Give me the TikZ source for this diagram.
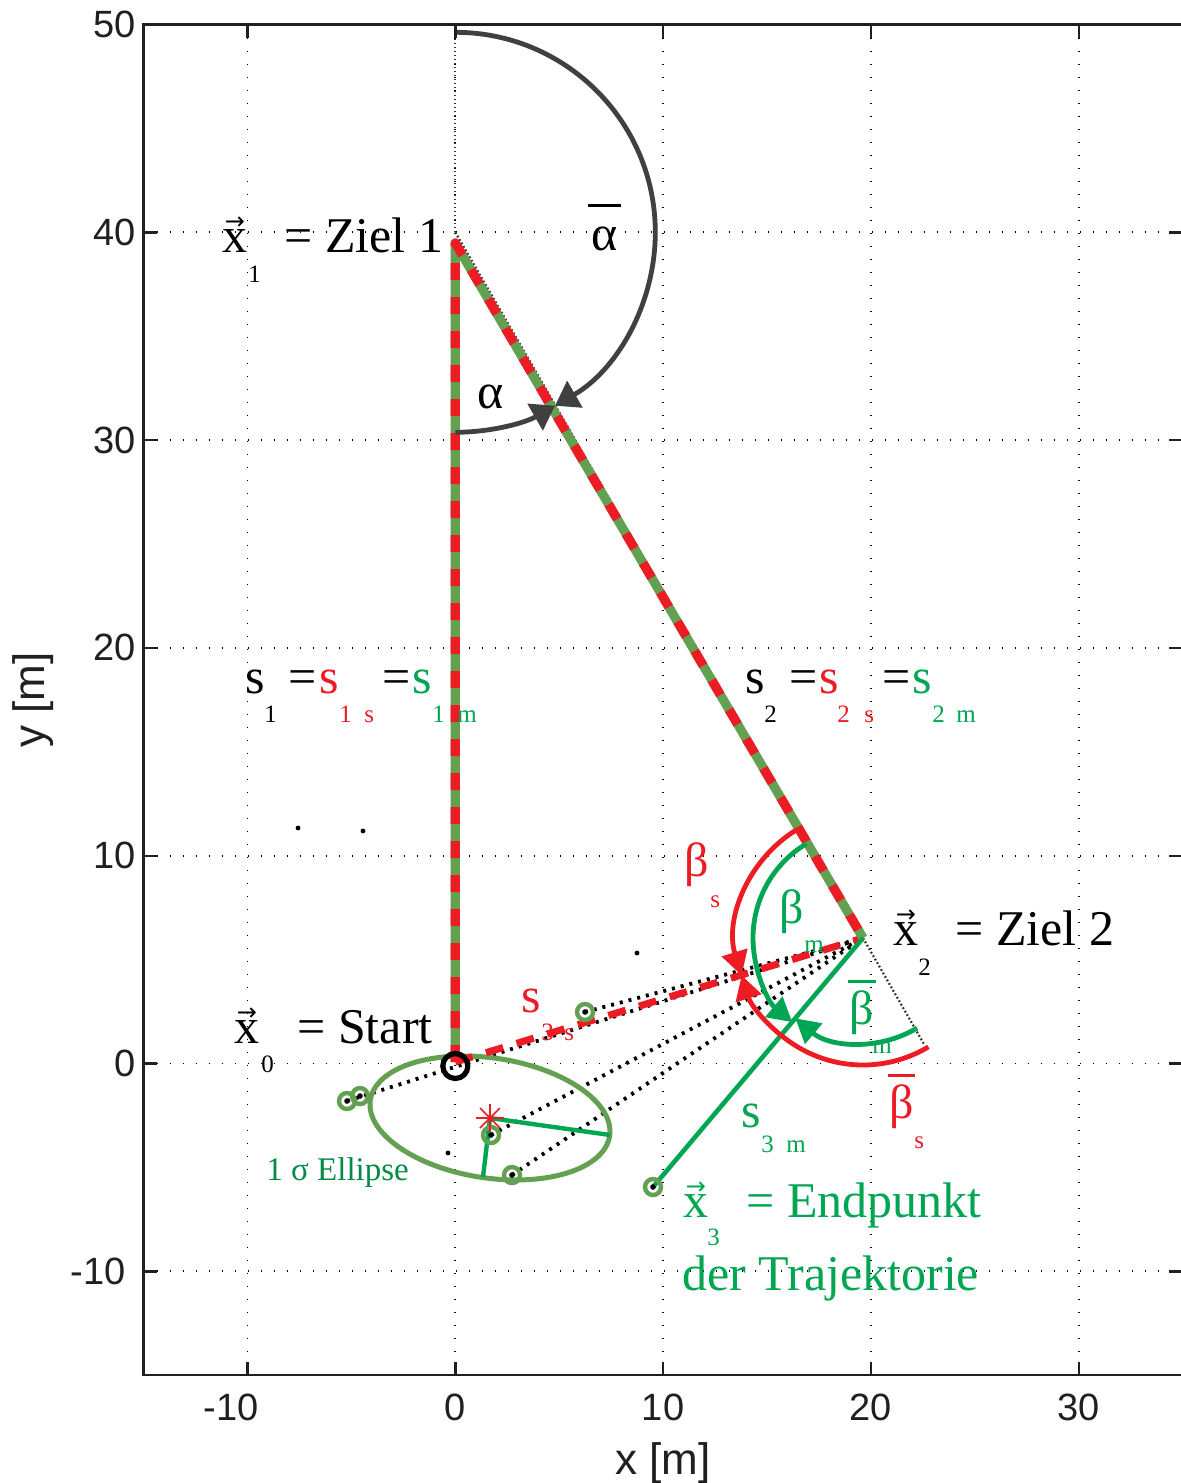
\documentclass[tikz,border=0pt]{standalone}
\usepackage{fontspec}
\setmainfont{Liberation Serif}
\newfontfamily\axfont{Liberation Sans}
\newfontfamily\arrowfont{DejaVu Sans}
\usetikzlibrary{arrows.meta}
\definecolor{mred}{RGB}{237,28,36}
\definecolor{mgreenA}{RGB}{99,160,82}
\definecolor{mgreenB}{RGB}{0,166,81}
\definecolor{mgreenC}{RGB}{0,140,70}
\definecolor{arcgray}{RGB}{64,64,64}
\definecolor{axcol}{RGB}{35,31,32}
\newcommand{\vecx}{\ooalign{x\cr\hidewidth\raisebox{11.5pt}{\arrowfont\fontsize{12}{12}\selectfont →}\hidewidth\cr}}
\newcommand{\barsym}[3]{\ooalign{#1\cr\hidewidth\rule[#2]{#3}{1.5pt}\hidewidth\cr}}
\begin{document}
\begin{tikzpicture}[x=0.5pt,y=-0.5pt,
  gridline/.style={draw=black, line width=0.9pt, dash pattern=on 0.9pt off 5.6pt},
  axisline/.style={draw=axcol, line width=1.2pt},
  ticklbl/.style={inner sep=0pt, font=\axfont\fontsize{19}{22}\selectfont, text=axcol},
  axlbl/.style={inner sep=0pt, anchor=base, font=\axfont\fontsize{22}{26}\selectfont, text=axcol},
  traj/.style={draw=black, line width=1.9pt, dash pattern=on 1.5pt off 3pt},
  fine/.style={draw=black!80, line width=1.1pt, dash pattern=on 0.9pt off 1.1pt},
  gmark/.style={circle, draw=mgreenA, line width=2.2pt, inner sep=0pt, minimum size=8pt},
  garc/.style={draw=arcgray, line width=2.4pt, -{Triangle[length=11.5pt,width=15pt]}},
  rarc/.style={draw=mred, line width=2.4pt, -{Triangle[length=12pt,width=13pt]}},
  marc/.style={draw=mgreenB, line width=2.4pt, -{Triangle[length=12pt,width=13pt]}},
  lbl/.style={inner sep=0pt, anchor=base west, font=\fontsize{25}{30}\selectfont},
  grk/.style={inner sep=0pt, anchor=base west, font=\fontsize{24}{28}\selectfont},
  sub/.style={inner sep=0pt, anchor=base west, font=\fontsize{12.5}{15}\selectfont},
]
\useasboundingbox (0,0) rectangle (1180,1483);
\fill[white] (0,0) rectangle (1180,1483);

% grid
\foreach \gx in {247.5,455.3,663.1,870.9,1078.7} \draw[gridline] (\gx,24.5) -- (\gx,1375.2);
\foreach \gy in {232.3,440.1,647.9,855.7,1063.5,1271.3} \draw[gridline] (143.6,\gy) -- (1182.6,\gy);

% key points
\coordinate (x0) at (455.3,1063.5);
\coordinate (x1) at (455.3,232.3);
\coordinate (x2) at (863,938);
\coordinate (x3) at (653,1187);
\coordinate (topp) at (455.3,26);
\coordinate (ext) at (923.8,1043.8);
\coordinate (s1top) at (455.3,243);
\coordinate (s1bot) at (455.3,1062);
\coordinate (c0) at (490,1118);
\coordinate (emaj) at (610,1135);
\coordinate (emin) at (483,1177);
\coordinate (p1) at (347,1101);
\coordinate (p2) at (360,1096);
\coordinate (p3) at (491,1135);
\coordinate (p4) at (512,1175);
\coordinate (p5) at (585,1012);

% dense dotted reference lines
\draw[fine] (x1) -- (topp);
\draw[fine] (x1) -- (x2);
\draw[fine] (x2) -- (ext);

% trajectory samples
\draw[traj] (p1) -- (x2);
\draw[traj] (p5) -- (x2);
\draw[traj] (p3) -- (x2);
\draw[traj] (p4) -- (x2);

% ellipse
\draw[mgreenA, line width=2.5pt, rotate around={-8.5:(c0)}] (c0) ellipse [x radius=121, y radius=60];
\draw[mgreenB, line width=2.2pt] (emaj) -- (c0) -- (emin);

% s3s
\draw[mred, line width=3.5pt, dash pattern=on 9pt off 7pt] (s1bot) -- (x2);

% s1 / s2 thick
\draw[mgreenA, line width=4.6pt, line join=round] (s1bot) -- (s1top) -- (x2);
\draw[mred, line width=4.6pt, line join=round, dash pattern=on 8.5pt off 8.5pt] (s1bot) -- (s1top) -- (x2);

% s3m
\draw[mgreenB, line width=2.3pt] (x2) -- (x3);

% angle arcs
\draw[garc] (x1) ++(-90:200) arc[start angle=-90, end angle=60.1, radius=200];
\draw[garc] (x1) ++(90:200) arc[start angle=90, end angle=60.1, radius=200];
\draw[rarc] (x2) ++(-121:127) arc[start angle=-121, end angle=-197.1, radius=127];
\draw[rarc] (x2) ++(59:127) arc[start angle=59, end angle=162.9, radius=127];
\draw[marc] (x2) ++(-121:110) arc[start angle=-121, end angle=-229.9, radius=110];
\draw[marc] (x2) ++(59:105) arc[start angle=59, end angle=130.1, radius=105];

% markers
\foreach \p in {p1,p2,p3,p4,p5,x3} \fill[black] (\p) circle[radius=2.8];
\node[gmark] (m1) at (p1) {};
\node[gmark] (m2) at (p2) {};
\node[gmark] (m3) at (p3) {};
\node[gmark] (m4) at (p4) {};
\node[gmark] (m5) at (p5) {};
\node[gmark] (m6) at (x3) {};
\node[circle, draw=black, line width=2.6pt, inner sep=0pt, minimum size=12.5pt] (m0) at (455.3,1066) {};

% asterisk
\draw[mred, line width=0.8pt] (c0) +(-14,0) -- +(14,0) (c0) +(0,-14) -- +(0,14)
  (c0) +(-10,-10) -- +(10,10) (c0) +(-10,10) -- +(10,-10);

% stray points
\foreach \q in {(298,828),(363,831),(637,953),(448,1153)} \fill[black] \q circle[radius=2.4];

% black labels
\node[lbl] (tx1) at (222,252) {\vecx};
\node[sub] (tx1s) at (248,282) {1};
\node[lbl] (tz1) at (284,252) {= Ziel 1};
\node[lbl] (ta) at (477,408) {α};
\node[lbl] (tab) at (591,250) {\barsym{α}{21.5pt}{16.5pt}};

\node[lbl] (ts1) at (245,693) {s};
\node[sub] (ts1i) at (264,722) {1};
\node[lbl] (te1) at (288,693) {=};
\node[lbl,text=mred] (ts1s) at (319,693) {s};
\node[sub,text=mred] (ts1si) at (339,722) {1};
\node[sub,text=mred] (ts1ss) at (364,722) {s};
\node[lbl] (te1b) at (382,693) {=};
\node[lbl,text=mgreenB] (ts1m) at (412,693) {s};
\node[sub,text=mgreenB] (ts1mi) at (432,722) {1};
\node[sub,text=mgreenB] (ts1mm) at (457,722) {m};

\node[lbl] (ts2) at (745,693) {s};
\node[sub] (ts2i) at (764,722) {2};
\node[lbl] (te2) at (789,693) {=};
\node[lbl,text=mred] (ts2s) at (819,693) {s};
\node[sub,text=mred] (ts2si) at (837,722) {2};
\node[sub,text=mred] (ts2ss) at (864,722) {s};
\node[lbl] (te2b) at (882,693) {=};
\node[lbl,text=mgreenB] (ts2m) at (912,693) {s};
\node[sub,text=mgreenB] (ts2mi) at (932,722) {2};
\node[sub,text=mgreenB] (ts2mm) at (956,722) {m};

\node[lbl] (tx0) at (234,1043) {\vecx};
\node[sub] (tx0s) at (261,1072) {0};
\node[lbl] (tst) at (297,1043) {= Start};

\node[lbl] (tx2) at (893,945) {\vecx};
\node[sub] (tx2s) at (918,975) {2};
\node[lbl] (tz2) at (955,945) {= Ziel 2};

% red labels
\node[grk,text=mred] (tbs) at (684,876) {β};
\node[sub,text=mred] (tbss) at (710,907) {s};
\node[lbl,text=mred] (ts3s) at (521,1012) {s};
\node[sub,text=mred] (ts3si) at (541,1040) {3};
\node[sub,text=mred] (ts3ss) at (564,1040) {s};
\node[grk,text=mred] (tbbs) at (889,1118) {\barsym{β}{20.5pt}{13.5pt}};
\node[sub,text=mred] (tbbss) at (914,1148) {s};

% green labels
\node[grk,text=mgreenB] (tbm) at (779,923) {β};
\node[sub,text=mgreenB] (tbmm) at (804,952) {m};
\node[grk,text=mgreenB] (tbbm) at (849,1024) {\barsym{β}{20.5pt}{14pt}};
\node[sub,text=mgreenB] (tbbmm) at (872,1053) {m};
\node[lbl,text=mgreenB] (ts3m) at (741,1127) {s};
\node[sub,text=mgreenB] (ts3mi) at (761,1152) {3};
\node[sub,text=mgreenB] (ts3mm) at (786,1152) {m};
\node[lbl,text=mgreenB] (tx3) at (683,1217) {\vecx};
\node[sub,text=mgreenB] (tx3s) at (707,1245) {3};
\node[lbl,text=mgreenB] (tend) at (746,1217) {= Endpunkt};
\node[lbl,text=mgreenB] (ttraj) at (682,1290) {der Trajektorie};
\node[inner sep=0pt, anchor=base west, font=\fontsize{16.5}{20}\selectfont, text=mgreenC] (tell) at (266,1180) {1 σ Ellipse};

% axes box and ticks
\draw[axisline] (1182.6,24.5) -- (143.6,24.5) -- (143.6,1375.2) -- (1182.6,1375.2);
\foreach \gx in {247.5,455.3,663.1,870.9,1078.7} {
  \draw[axisline] (\gx,1375.2) -- (\gx,1361.5);
  \draw[axisline] (\gx,24.5) -- (\gx,38);
}
\foreach \gy in {24.5,232.3,440.1,647.9,855.7,1063.5,1271.3} {
  \draw[axisline] (143.6,\gy) -- (157,\gy);
  \draw[axisline] (1182.6,\gy) -- (1169,\gy);
}

% tick labels
\node[ticklbl, anchor=east] (ly50) at (136,24.5) {50};
\node[ticklbl, anchor=east] (ly40) at (136,232.3) {40};
\node[ticklbl, anchor=east] (ly30) at (136,440.1) {30};
\node[ticklbl, anchor=east] (ly20) at (136,647.9) {20};
\node[ticklbl, anchor=east] (ly10) at (136,855.7) {10};
\node[ticklbl, anchor=east] (ly0) at (136,1063.5) {0};
\node[ticklbl, anchor=east] (lym10) at (126,1271.3) {-10};
\node[ticklbl] (lxm10) at (231,1407) {-10};
\node[ticklbl] (lx0) at (455.3,1407) {0};
\node[ticklbl] (lx10) at (663.1,1407) {10};
\node[ticklbl] (lx20) at (870.9,1407) {20};
\node[ticklbl] (lx30) at (1078.7,1407) {30};

% axis labels
\node[axlbl] (xlab) at (663.1,1474) {x [m]};
\node[axlbl, rotate=90] (ylab) at (44,700) {y [m]};
\end{tikzpicture}
\end{document}
